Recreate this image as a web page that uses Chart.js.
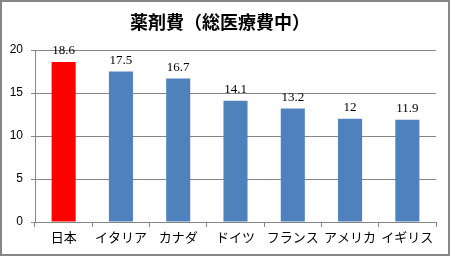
<!DOCTYPE html>
<html>
<head>
<meta charset="utf-8">
<script src="https://cdn.jsdelivr.net/npm/chart.js@4"></script>
<style>
  html, body { margin: 0; padding: 0; background: #fff; }
  #wrap { width: 450px; height: 257px; }
</style>
</head>
<body>
<div id="wrap"><canvas id="chart" width="450" height="257"></canvas></div>
<script>
const chartTitle = '薬剤費（総医療費中）';
const countries = ['日本', 'イタリア', 'カナダ', 'ドイツ', 'フランス', 'アメリカ', 'イギリス'];
const drugShare = [18.6, 17.5, 16.7, 14.1, 13.2, 12, 11.9];
const barColors = ['#ff0000', '#4f81bd', '#4f81bd', '#4f81bd', '#4f81bd', '#4f81bd', '#4f81bd'];
const yTicks = [0, 5, 10, 15, 20];

// title, value labels and outer frame
const decorations = {
    id: 'decorations',
    afterDatasetsDraw(chart) {
        const ctx = chart.ctx;
        const meta = chart.getDatasetMeta(0);
        ctx.save();
        ctx.fillStyle = '#000';
        ctx.font = '13px "Liberation Serif"';
        ctx.textAlign = 'center';
        ctx.textBaseline = 'middle';
        meta.data.forEach((bar, i) => {
            ctx.fillText(String(drugShare[i]), bar.x, bar.y - 11);
        });
        ctx.restore();
    },
    afterDraw(chart) {
        const ctx = chart.ctx;
        ctx.save();
        ctx.font = 'bold 18px "Noto Sans CJK JP"';
        ctx.textAlign = 'center';
        ctx.textBaseline = 'middle';
        ctx.fillStyle = '#000';
        ctx.fillText(chartTitle, 220, 22);
        ctx.strokeStyle = '#868686';
        ctx.lineWidth = 2;
        ctx.strokeRect(1, 1, 448, 254);
        ctx.restore();
    }
};

const ctx = document.getElementById('chart').getContext('2d');
new Chart(ctx, {
    type: 'bar',
    data: {
        labels: countries,
        datasets: [{
            data: drugShare,
            backgroundColor: barColors,
            barPercentage: 0.42,
            categoryPercentage: 1,
        }],
    },
    options: {
        responsive: false,
        animation: false,
        layout: { padding: { top: 50, right: 14, left: 0, bottom: 0 } },
        plugins: {
            legend: { display: false },
            tooltip: { enabled: false },
        },
        scales: {
            x: {
                afterFit: s => { s.height = 35; },
                grid: { drawOnChartArea: false, tickLength: 5, color: '#868686' },
                border: { color: '#868686' },
                ticks: {
                    color: '#000',
                    font: { family: '"Noto Sans CJK JP"', size: 13 },
                    padding: 2,
                    maxRotation: 0,
                    autoSkip: false,
                },
            },
            y: {
                min: 0,
                max: 20,
                afterFit: s => { s.width = 35; },
                afterBuildTicks: s => { s.ticks = yTicks.map(v => ({ value: v })); },
                grid: { color: '#868686', tickLength: 4 },
                border: { color: '#868686' },
                ticks: {
                    color: '#000',
                    font: { family: '"Liberation Sans"', size: 12 },
                    padding: 8,
                },
            },
        },
    },
    plugins: [decorations],
});
</script>
</body>
</html>
